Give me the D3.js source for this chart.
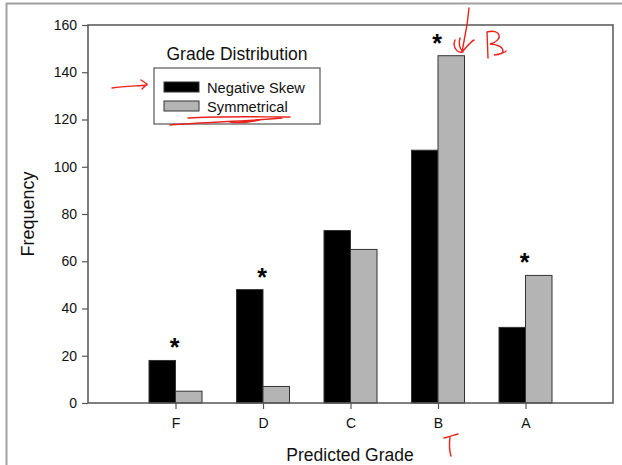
<!DOCTYPE html>
<html>
<head>
<meta charset="utf-8">
<script src="https://cdn.jsdelivr.net/npm/d3@7"></script>
<style>
    body { margin: 0; background: #fff; }
    svg text { font-family: "Liberation Sans", Arial, sans-serif; }
</style>
</head>
<body>
<svg id="chart" width="622" height="465"></svg>
<script>
// data
const grades = ['F', 'D', 'C', 'B', 'A'];
const negativeSkew = [18, 48, 73, 107, 32];
const symmetrical = [5, 7, 65, 147, 54];
const significant = ['F', 'D', 'B', 'A'];
const seriesNames = ['Negative Skew', 'Symmetrical'];
const seriesColors = ['#000000', '#b4b4b4'];
const yTicks = [0, 20, 40, 60, 80, 100, 120, 140, 160];

const svg = d3.select('#chart');
const margin = {top: 25, left: 88, right: 9, bottom: 62};
const w = 622 - margin.left - margin.right;
const h = 465 - margin.top - margin.bottom;

// screenshot frame
svg.append('path')
    .attr('d', 'M6.5,465 V3.5 H622')
    .attr('fill', 'none').attr('stroke', '#a0a0a0').attr('stroke-width', 2);

const g = svg.append('g').attr('transform', `translate(${margin.left},${margin.top})`);

const x = d3.scalePoint().domain(grades).range([0, w]).padding(1);
const y = d3.scaleLinear().domain([0, 160]).range([h, 0]);
const barW = 26.5;

// bars
const rows = grades.map((k, i) => ({key: k, values: [negativeSkew[i], symmetrical[i]]}));
const grp = g.selectAll('g.grade').data(rows).join('g').attr('class', 'grade');
grp.selectAll('rect').data(d => d.values.map((v, si) => ({key: d.key, v, si})))
    .join('rect')
    .attr('x', d => x(d.key) + (d.si - 1) * barW)
    .attr('y', d => y(d.v))
    .attr('width', barW)
    .attr('height', d => h - y(d.v))
    .attr('fill', d => seriesColors[d.si])
    .attr('stroke', '#333')
    .attr('stroke-width', 1);

// asterisks
g.selectAll('text.star').data(rows.filter(d => significant.includes(d.key)))
    .join('text').attr('class', 'star')
    .attr('x', d => x(d.key) - 1)
    .attr('y', d => y(d3.max(d.values)) - 4)
    .attr('text-anchor', 'middle')
    .style('font-size', '25px').style('font-weight', 'bold')
    .text('*');

// frame of plot
g.append('rect').attr('width', w).attr('height', h)
    .attr('fill', 'none').attr('stroke', '#555').attr('stroke-width', 1.5);

// axes
const yAxis = g.append('g').call(d3.axisLeft(y).tickValues(yTicks).tickSize(6).tickPadding(5));
const xAxis = g.append('g').attr('transform', `translate(0,${h})`)
    .call(d3.axisBottom(x).tickSize(6).tickPadding(9));
[yAxis, xAxis].forEach(a => {
    a.select('.domain').remove();
    a.selectAll('line').attr('stroke', '#555').attr('stroke-width', 1.2);
    a.selectAll('text').style('font-size', '14px').attr('fill', '#111');
});

svg.append('text')
    .attr('transform', 'translate(34,214) rotate(-90)')
    .attr('text-anchor', 'middle')
    .style('font-size', '18px').attr('fill', '#111')
    .text('Frequency');
svg.append('text')
    .attr('x', 350).attr('y', 461)
    .attr('text-anchor', 'middle')
    .style('font-size', '17.5px').attr('fill', '#111')
    .text('Predicted Grade');

// legend
const lg = svg.append('g').attr('transform', 'translate(154,68)');
lg.append('text').attr('x', 83).attr('y', -8).attr('text-anchor', 'middle')
    .style('font-size', '17.5px').attr('fill', '#111').text('Grade Distribution');
lg.append('rect').attr('width', 166).attr('height', 56)
    .attr('fill', '#fff').attr('stroke', '#555').attr('stroke-width', 1.2);
const li = lg.selectAll('g.item').data(seriesNames).join('g').attr('class', 'item')
    .attr('transform', (d, i) => `translate(10,${14 + i * 19})`);
li.append('rect').attr('width', 35).attr('height', 10)
    .attr('fill', (d, i) => seriesColors[i]).attr('stroke', '#333');
li.append('text').attr('x', 43).attr('y', 10.5)
    .style('font-size', '14.7px').attr('fill', '#111').text(d => d);

// red hand annotations
const scribbles = [
    'M112,88 C125,86 138,86 147,85 M141,80 L147,84 L142,89',
    'M188,118 C220,116 260,117 290,117 M170,125 C210,122 250,121 282,118 M230,122 C240,124 250,122 260,120',
    'M469,8 L467,25 L462,52 M455,40 C452,48 458,53 462,52 C466,48 470,42 474,40 M460,38 C458,45 461,50 463,52',
    'M487,32 L488,58 M487,32 C500,28 505,40 490,44 C505,45 508,55 494,55 C500,54 505,53 506,51',
    'M444,438 C450,436 455,435 458,434 M450,437 C449,445 449,450 451,456'
];
svg.append('g').selectAll('path').data(scribbles).join('path')
    .attr('d', d => d)
    .attr('fill', 'none').attr('stroke', '#e8231b').attr('stroke-width', 1.4)
    .attr('stroke-linecap', 'round');
</script>
</body>
</html>
